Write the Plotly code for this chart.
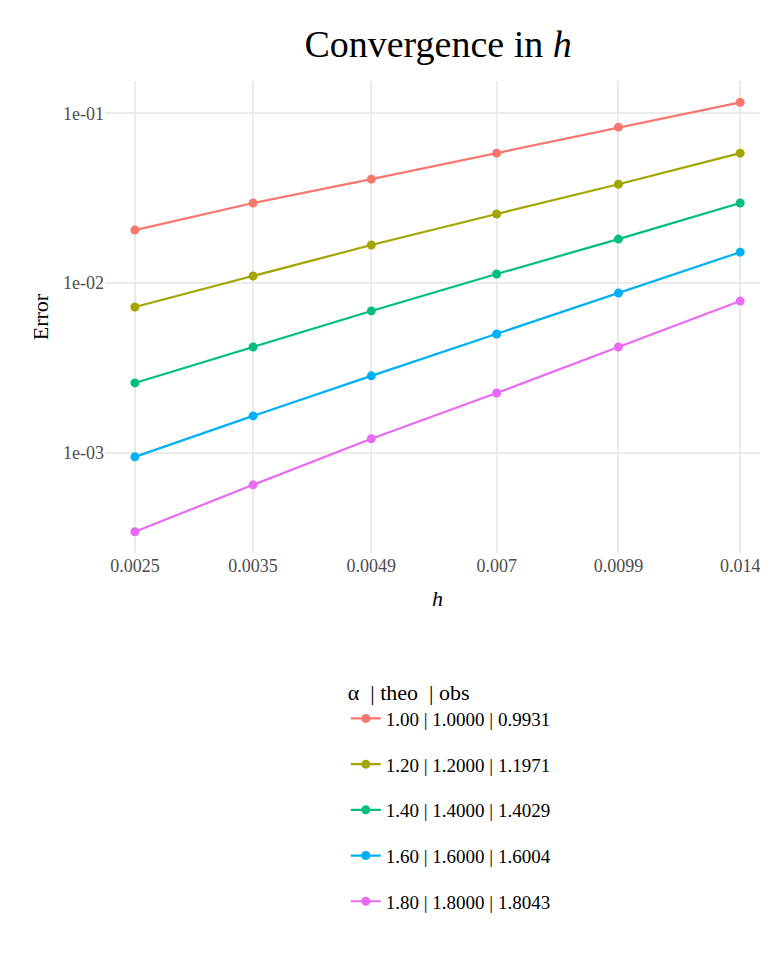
import plotly.graph_objects as go

h = [0.0025, 0.0035, 0.0049, 0.007, 0.0099, 0.014]
h_labels = ["0.0025", "0.0035", "0.0049", "0.007", "0.0099", "0.014"]

err_100 = [0.0205, 0.0296, 0.0409, 0.0582, 0.0828, 0.116]
err_120 = [0.00723, 0.0110, 0.01675, 0.0255, 0.0382, 0.0582]
err_140 = [0.00258, 0.0042, 0.00685, 0.0113, 0.01815, 0.0296]
err_160 = [0.000947, 0.00165, 0.00284, 0.00501, 0.00873, 0.0152]
err_180 = [0.000343, 0.000648, 0.00121, 0.00225, 0.0042, 0.00783]

names = ["1.00 | 1.0000 | 0.9931", "1.20 | 1.2000 | 1.1971", "1.40 | 1.4000 | 1.4029",
         "1.60 | 1.6000 | 1.6004", "1.80 | 1.8000 | 1.8043"]
colors = ["#F8766D", "#A3A500", "#00BF7D", "#00B0F6", "#E76BF3"]
series = [err_100, err_120, err_140, err_160, err_180]

fig = go.Figure()
for i, (nm, col, ys) in enumerate(zip(names, colors, series)):
    fig.add_trace(go.Scatter(x=h, y=ys, mode="lines+markers", name=nm, legendgroup=str(i),
                             line=dict(color=col, width=2.2), marker=dict(color=col, size=9)))

font = "Liberation Serif, DejaVu Serif, serif"
fig.update_layout(
    width=768, height=960, plot_bgcolor="white", paper_bgcolor="white",
    font=dict(family=font, size=18, color="#4D4D4D"),
    title=dict(text="Convergence in <i>h</i>", x=0.56, xanchor="center", y=0.977,
               font=dict(size=38, color="black")),
    margin=dict(l=97, r=6, t=73, b=415),
    xaxis=dict(type="log", range=[-2.639, -1.817], tickvals=h, ticktext=h_labels,
               showgrid=True, gridcolor="#EBEBEB", gridwidth=1.5, zeroline=False,
               title=dict(text="<i>h</i>", font=dict(size=22, color="black")), ticks=""),
    yaxis=dict(type="log", range=[-3.59, -0.81], tickvals=[0.001, 0.01, 0.1],
               ticktext=["1e-03", "1e-02", "1e-01"], showgrid=True, gridcolor="#EBEBEB",
               gridwidth=1.5, zeroline=False, ticks="",
               title=dict(text="Error", font=dict(size=22, color="black"), standoff=8)),
    legend=dict(orientation="v", x=0.52, xanchor="center", y=-0.25, yanchor="top",
                title=dict(text="α  | theo  | obs", font=dict(size=22, color="black"), side="top"),
                font=dict(size=19, color="black"), tracegroupgap=18),
)
fig.write_html("out.html")
